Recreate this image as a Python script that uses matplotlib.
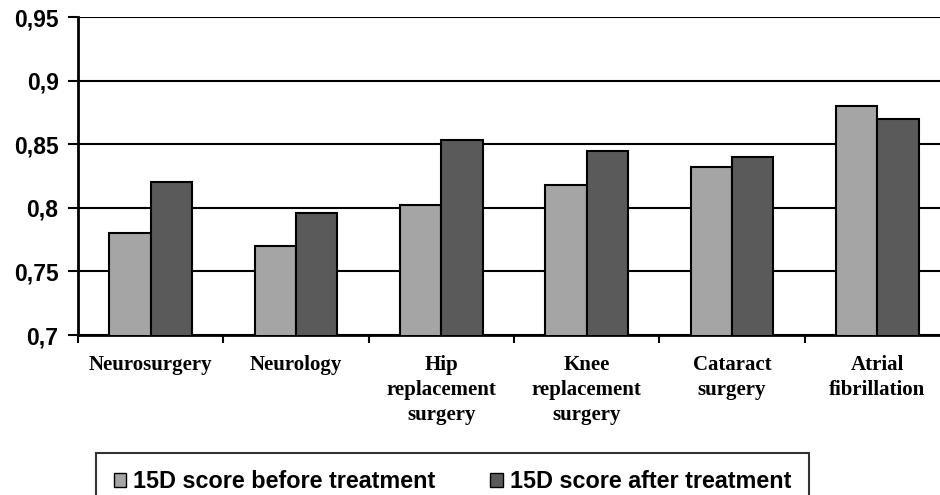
import matplotlib
matplotlib.use("Agg")
import matplotlib.pyplot as plt
import numpy as np
from matplotlib.patches import Patch

categories = ["Neurosurgery", "Neurology", "Hip\nreplacement\nsurgery",
              "Knee\nreplacement\nsurgery", "Cataract\nsurgery", "Atrial\nfibrillation"]
before = [0.780, 0.770, 0.802, 0.818, 0.832, 0.880]
after = [0.820, 0.796, 0.853, 0.845, 0.840, 0.870]
series_names = ["15D score before treatment", "15D score after treatment"]
y_ticks = [0.70, 0.75, 0.80, 0.85, 0.90, 0.95]
y_tick_labels = ["0,7", "0,75", "0,8", "0,85", "0,9", "0,95"]

light = "#A5A5A5"
dark = "#5A5A5A"

fig = plt.figure(figsize=(9.4, 4.95), dpi=100)
ax = fig.add_axes([78 / 940, 160 / 495, 872 / 940, 318 / 495])

x = np.arange(len(categories)) + 0.5
w = 0.285
ax.bar(x - w / 2, before, w, bottom=0, color=light, edgecolor="black", linewidth=1.5, zorder=3)
ax.bar(x + w / 2, after, w, bottom=0, color=dark, edgecolor="black", linewidth=1.5, zorder=3)

ax.set_xlim(0, len(categories))
ax.set_ylim(0.7, 0.95)
ax.set_yticks(y_ticks)
ax.set_yticklabels(y_tick_labels, fontfamily="Liberation Sans", fontweight="bold", fontsize=16.5)
ax.yaxis.grid(True, color="black", linewidth=1.5, zorder=0)
ax.set_axisbelow(True)

ax.set_xticks(np.arange(len(categories) + 1))
ax.set_xticklabels([])
ax.set_xticks(x, minor=True)
ax.set_xticklabels(categories, minor=True, fontfamily="Liberation Serif",
                   fontweight="bold", fontsize=15, linespacing=1.34, va="top")
ax.tick_params(axis="x", which="major", direction="out", length=6, width=1.5)
ax.tick_params(axis="x", which="minor", length=0, pad=14.5)
ax.tick_params(axis="y", direction="out", length=7, width=1.5, pad=7)

for s in ["top", "right"]:
    ax.spines[s].set_visible(False)
for s in ["left", "bottom"]:
    ax.spines[s].set_linewidth(2)

handles = [Patch(facecolor=light, edgecolor="black", linewidth=1.0),
           Patch(facecolor=dark, edgecolor="black", linewidth=1.0)]
leg = fig.legend(handles, series_names, loc="upper left",
                 bbox_to_anchor=(96 / 940, 1 - 453 / 495), ncol=2,
                 prop={"family": "Liberation Sans", "weight": "bold", "size": 16.8},
                 frameon=True, fancybox=False, shadow=False,
                 handlelength=0.55, handleheight=0.55, handletextpad=0.3,
                 columnspacing=2.35, borderpad=0.75, borderaxespad=0)
leg.get_frame().set_edgecolor("black")
leg.get_frame().set_linewidth(1.5)

fig.savefig("out.png", dpi=100)
